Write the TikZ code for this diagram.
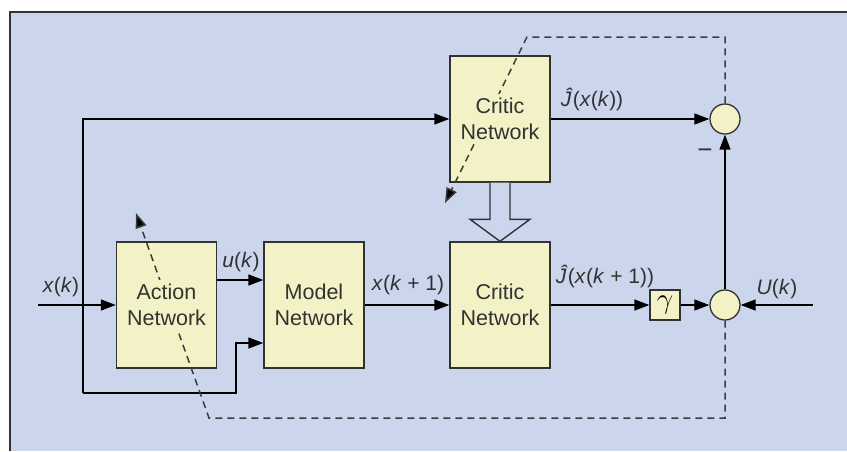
\documentclass[tikz,border=0pt]{standalone}
\usepackage{fontspec}
\setmainfont{Liberation Sans}
\usetikzlibrary{arrows.meta,calc}
\definecolor{bgblue}{RGB}{203,214,237}
\definecolor{boxfill}{RGB}{242,242,198}
\definecolor{edgec}{RGB}{50,50,50}
\definecolor{dashc}{RGB}{60,60,60}
\newcommand{\iv}[1]{\textit{#1}}
\begin{document}
\begin{tikzpicture}[x=1pt,y=-1pt,
  font=\fontsize{21}{26}\selectfont,
  blk/.style={draw=edgec, line width=1.4pt, fill=boxfill, minimum width=100pt, minimum height=126pt, inner sep=0pt},
  boxtxt/.style={fill=boxfill, align=center, inner sep=4pt, text=edgec, font=\fontsize{21.5}{26}\selectfont},
  sumnode/.style={circle, draw=edgec, line width=1.3pt, fill=boxfill, minimum size=30pt, inner sep=0pt},
  gainbox/.style={draw=edgec, line width=1.3pt, fill=boxfill, minimum size=30pt, inner sep=0pt},
  arr/.style={-{Triangle[length=15pt,width=11pt]}, line width=1.4pt, draw=black},
  dasharr/.style={draw=dashc, line width=1.5pt, dash pattern=on 7pt off 5pt, -{Triangle[length=15pt,width=11pt,fill=black]}},
  lab/.style={text=edgec, inner sep=0pt},
  hollow/.style={draw=edgec, line width=1.4pt, fill=bgblue, line join=miter}
]
\useasboundingbox (0,0) rectangle (847,451);
% panel
\fill[bgblue] (10,12) rectangle (847,451);
\draw[edgec, line width=1.2pt] (10,451) -- (10,12) -- (847,12);

% boxes
\node[blk] (act) at (166.5,305) {};
\node[blk] (model) at (314,305) {};
\node[blk] (lcrit) at (500,305) {};
\node[blk] (ucrit) at (500,119) {};
\node[sumnode] (sumU) at (725,119) {};
\node[sumnode] (sumL) at (725,305) {};
\node[gainbox] (gam) at (665,305) {\scalebox{1.4}{$\gamma$}};

% coordinates
\coordinate (in) at (38,305);
\coordinate (fb1) at (83,393);
\coordinate (fb2) at (236,393);
\coordinate (uin) at (813,305);
\coordinate (d1) at (725,418);
\coordinate (d2) at (209,418);
\coordinate (d3) at (136,213);
\coordinate (d4) at (725,37);
\coordinate (d5) at (527,37);
\coordinate (d6) at (445,203);

% solid connectors
\draw[arr] (in) -- (act.west);
\draw[arr] (fb1) |- (ucrit.west);
\draw[arr] (fb1) -- (fb2) |- ([yshift=-38pt]model.west);
\draw[arr] ([yshift=25pt]act.east) -- ([yshift=25pt]model.west);
\draw[arr] (model.east) -- (lcrit.west);
\draw[arr] (lcrit.east) -- (gam.west);
\draw[arr] (gam.east) -- (sumL.west);
\draw[arr] (uin) -- (sumL.east);
\draw[arr] (sumL.north) -- (sumU.south);
\draw[arr] (ucrit.east) -- (sumU.west);

% hollow arrow
\draw[hollow] ($(ucrit.south)+(-10,0)$) -- ($(lcrit.north)+(-10,-22)$) -- ($(lcrit.north)+(-30,-22)$) -- (lcrit.north) -- ($(lcrit.north)+(30,-22)$) -- ($(lcrit.north)+(10,-22)$) -- ($(ucrit.south)+(10,0)$);

% dashed connectors
\draw[dasharr] (sumL.south) -- (d1) -- (d2) -- (d3);
\draw[dasharr] (sumU.north) -- (d4) -- (d5) -- (d6);

% box texts
\node[boxtxt] (actT) at (act) {Action\\Network};
\node[boxtxt] (modelT) at (model) {Model\\Network};
\node[boxtxt] (lcritT) at (lcrit) {Critic\\Network};
\node[boxtxt] (ucritT) at (ucrit) {Critic\\Network};

% labels
\node[lab] (lxk) at (61,287) {\iv{x}(\iv{k})};
\node[lab] (luk) at (241,262) {\iv{u}(\iv{k})};
\node[lab] (lxk1) at (408,285) {\iv{x}(\iv{k} + 1)};
\node[lab] (lJ) at (592,99) {\iv{Ĵ}(\iv{x}(\iv{k}))};
\node[lab] (lJ1) at (605,276) {\iv{Ĵ}(\iv{x}(\iv{k} + 1))};
\node[lab] (lU) at (777,289) {\iv{U}(\iv{k})};
\node[lab] (lminus) at (705,154) {\fontsize{26}{26}\selectfont −};
\end{tikzpicture}
\end{document}
